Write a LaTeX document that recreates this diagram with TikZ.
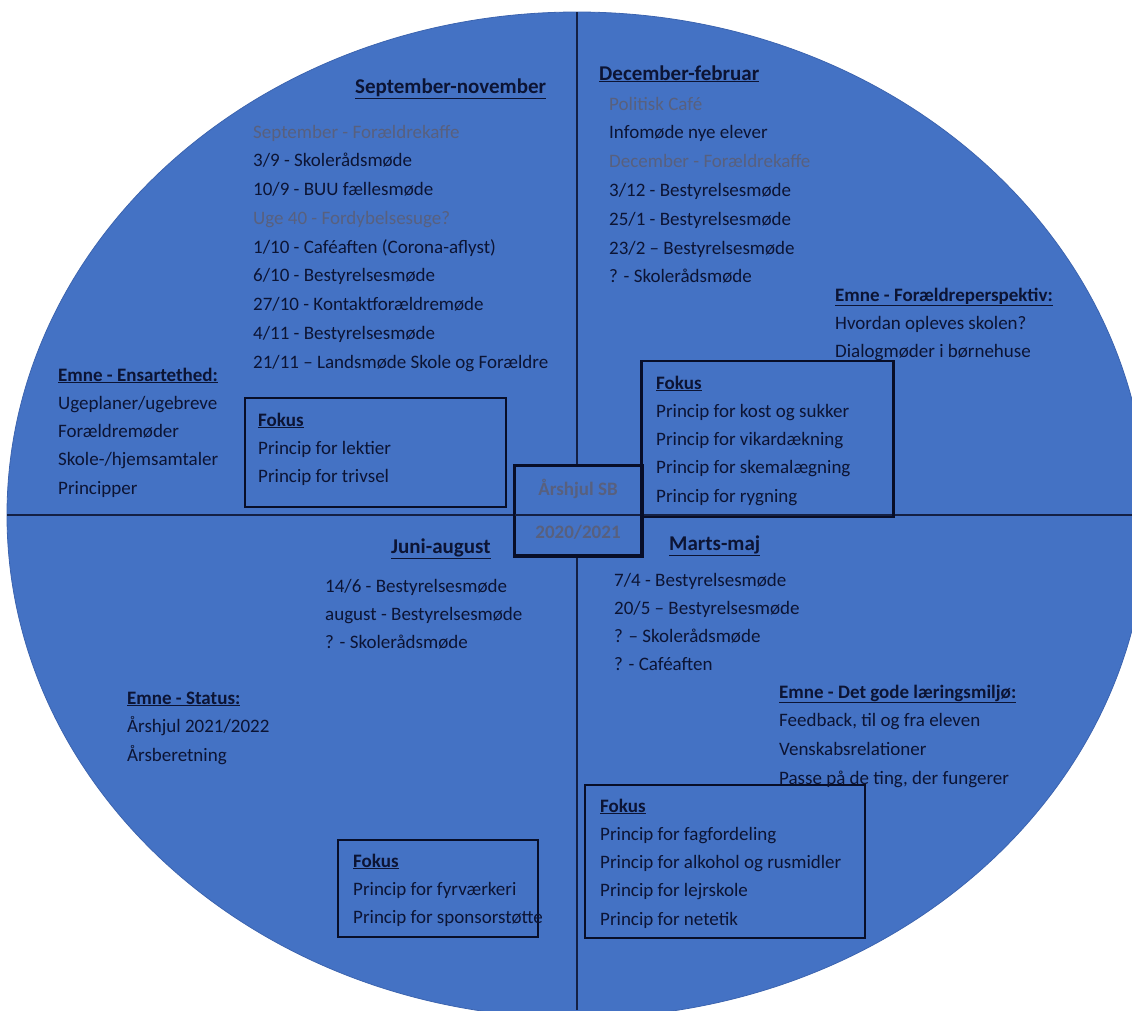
\documentclass[tikz,border=0pt]{standalone}
\usepackage{fontspec}
\setmainfont{Carlito}
\definecolor{wheelblue}{RGB}{68,114,196}
\definecolor{inkc}{RGB}{12,20,52}
\definecolor{fadec}{RGB}{88,96,126}
\definecolor{rimc}{RGB}{60,100,175}
\definecolor{linec}{RGB}{20,32,68}
\definecolor{boxc}{RGB}{8,14,40}
\tikzset{
  item/.style={anchor=base west, inner sep=0pt, text=inkc, font=\fontsize{19}{23}\selectfont},
  head/.style={item, font=\fontsize{21}{25}\selectfont\bfseries},
  topic/.style={item, font=\fontsize{19}{23}\selectfont\bfseries},
  fokusbox/.style={draw=boxc, line width=2.5pt, inner sep=0pt},
  hubtext/.style={anchor=base, inner sep=0pt, text=fadec, font=\fontsize{19}{23}\selectfont\bfseries},
  quadline/.style={draw=linec, line width=1.4pt},
}
\newcommand{\fd}[1]{\textcolor{fadec}{#1}}
\begin{document}
\begin{tikzpicture}[x=1pt,y=-1pt]
\useasboundingbox (0,0) rectangle (1132,1010);
\clip (0,0) rectangle (1132,1010);
% wheel
\fill[wheelblue, draw=rimc, line width=0.8pt] (577,515) ellipse [x radius=570, y radius=503];
\coordinate (vtop) at (577,12);
\coordinate (vbot) at (577,1010);
\coordinate (hleft) at (7,515);
\coordinate (hright) at (1132,515);
\draw[quadline] (vtop) -- (vbot);
% hub
\node[fokusbox, fill=wheelblue, minimum width=126pt, minimum height=89pt] (hub) at (578,510.5) {};
\draw[quadline] (hleft) -- (hright);
\draw[draw=boxc, line width=2.5pt] (hub.north west) rectangle (hub.south east);
\node[hubtext] (hubA) at (578,495) {Årshjul SB};
\node[hubtext] (hubB) at (578,538) {2020/2021};
% fokus boxes
\node[fokusbox, minimum width=261pt, minimum height=109pt] (fk1) at (375.5,452.5) {};
\node[fokusbox, minimum width=252pt, minimum height=156pt] (fk2) at (767.5,439) {};
\node[fokusbox, minimum width=200pt, minimum height=97pt] (fk3) at (438,888.5) {};
\node[fokusbox, minimum width=280pt, minimum height=153pt] (fk4) at (725,861.5) {};
% September-november
\node[head] (hSept) at (355,93) {\underline{September-november}};
\foreach \t [count=\i from 0] in {\fd{September - Forældrekaffe}, 3/9 - Skolerådsmøde, 10/9 - BUU fællesmøde, \fd{Uge 40 - Fordybelsesuge?}, 1/10 - Caféaften (Corona-aflyst), 6/10 - Bestyrelsesmøde, 27/10 - Kontaktforældremøde, 4/11 - Bestyrelsesmøde, 21/11 – Landsmøde Skole og Forældre}
  \node[item] (sept\i) at (253,{138+28.75*\i}) {\t};
% December-februar
\node[head] (hDec) at (599,80) {\underline{December-februar}};
\foreach \t [count=\i from 0] in {\fd{Politisk Café}, Infomøde nye elever, \fd{December - Forældrekaffe}, 3/12 - Bestyrelsesmøde, 25/1 - Bestyrelsesmøde, 23/2 – Bestyrelsesmøde, ? - Skolerådsmøde}
  \node[item] (dec\i) at (609,{110+28.8*\i}) {\t};
% Emne Forældreperspektiv
\node[topic] (eFor) at (835,301) {\underline{Emne - Forældreperspektiv:}};
\foreach \t [count=\i] in {Hvordan opleves skolen?, Dialogmøder i børnehuse}
  \node[item] (efor\i) at (835,{301+28*\i}) {\t};
% Emne Ensartethed
\node[topic] (eEns) at (58,381) {\underline{Emne - Ensartethed:}};
\foreach \t [count=\i] in {Ugeplaner/ugebreve, Forældremøder, Skole-/hjemsamtaler, Principper}
  \node[item] (eens\i) at (58,{381+28.3*\i}) {\t};
% Fokus 1
\node[topic] (f1h) at (258,426) {\underline{Fokus}};
\foreach \t [count=\i] in {Princip for lektier, Princip for trivsel}
  \node[item] (f1\i) at (258,{426+28*\i}) {\t};
% Fokus 2
\node[topic] (f2h) at (656,389) {\underline{Fokus}};
\foreach \t [count=\i] in {Princip for kost og sukker, Princip for vikardækning, Princip for skemalægning, Princip for rygning}
  \node[item] (f2\i) at (656,{389+28.25*\i}) {\t};
% Juni-august
\node[head] (hJun) at (391,553) {\underline{Juni-august}};
\foreach \t [count=\i from 0] in {14/6 - Bestyrelsesmøde, august - Bestyrelsesmøde, ? - Skolerådsmøde}
  \node[item] (jun\i) at (325,{592+28*\i}) {\t};
% Emne Status
\node[topic] (eSta) at (127,704) {\underline{Emne - Status:}};
\foreach \t [count=\i] in {Årshjul 2021/2022, Årsberetning}
  \node[item] (esta\i) at (127,{704+28.5*\i}) {\t};
% Fokus 3
\node[topic] (f3h) at (353,867) {\underline{Fokus}};
\foreach \t [count=\i] in {Princip for fyrværkeri, Princip for sponsorstøtte}
  \node[item] (f3\i) at (353,{867+28*\i}) {\t};
% Marts-maj
\node[head] (hMar) at (669,550) {\underline{Marts-maj}};
\foreach \t [count=\i from 0] in {7/4 - Bestyrelsesmøde, 20/5 – Bestyrelsesmøde, ? – Skolerådsmøde, ? - Caféaften}
  \node[item] (mar\i) at (614,{586+28.3*\i}) {\t};
% Emne læringsmiljø
\node[topic] (eLae) at (779,698) {\underline{Emne - Det gode læringsmiljø:}};
\foreach \t [count=\i] in {{Feedback, til og fra eleven}, Venskabsrelationer, {Passe på de ting, der fungerer}}
  \node[item] (elae\i) at (779,{698+28.7*\i}) {\t};
% Fokus 4
\node[topic] (f4h) at (600,812) {\underline{Fokus}};
\foreach \t [count=\i] in {Princip for fagfordeling, Princip for alkohol og rusmidler, Princip for lejrskole, Princip for netetik}
  \node[item] (f4\i) at (600,{812+28.25*\i}) {\t};
\end{tikzpicture}
\end{document}
